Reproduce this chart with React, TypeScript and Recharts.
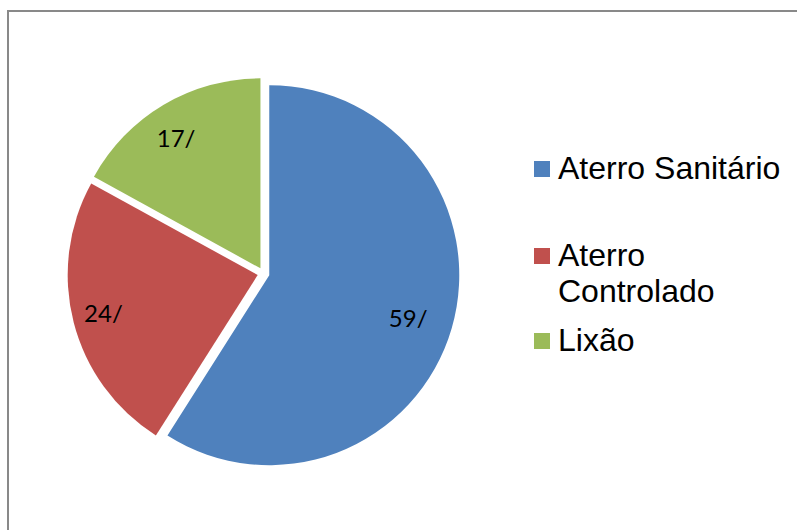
import { Cell, Legend, Pie, PieChart } from "recharts";

const categories = ["Aterro Sanitário", "Aterro Controlado", "Lixão"];
const values = [59, 24, 17];
const colors = ["#4F81BD", "#C0504D", "#9BBB59"];

const data = categories.map((name, i) => ({ name, value: values[i] }));

const CX = 263.5;
const CY = 273.5;
const R = 190;
const EXPLODE = 6;
const RAD = Math.PI / 180;
const total = values.reduce((a, b) => a + b, 0);

// mid angle of a slice in recharts degrees (clockwise from 12 o'clock)
function sliceMid(i: number): number {
  const before = values.slice(0, i).reduce((a, b) => a + b, 0);
  return 90 - ((before + values[i] / 2) / total) * 360;
}

const renderLabel = (target: number) => (props: any) => {
  if (props.index !== target) return null;
  const { cx, cy, midAngle, outerRadius, value } = props;
  const r = outerRadius * 0.8;
  const x = cx + r * Math.cos(-midAngle * RAD);
  const y = cy + r * Math.sin(-midAngle * RAD);
  return (
    <text
      x={x}
      y={y}
      dx={-7}
      fill="#000"
      textAnchor="middle"
      dominantBaseline="central"
      fontFamily="Lato, sans-serif"
      fontSize={24}
    >
      {value}/
    </text>
  );
};

const itemTops = [0, 51, 13];

function renderLegend() {
  return (
    <div style={{ fontFamily: "'Liberation Sans', Arial, sans-serif", fontSize: 32, lineHeight: "36px", color: "#000" }}>
      {categories.map((name, i) => (
        <div key={name} style={{ display: "flex", alignItems: "flex-start", marginTop: itemTops[i] }}>
          <span
            style={{
              width: 16,
              height: 16,
              marginTop: 11,
              marginRight: 8,
              background: colors[i],
              flex: "none",
            }}
          />
          <span style={{ width: 232 }}>{name}</span>
        </div>
      ))}
    </div>
  );
}

export default function App() {
  return (
    <div style={{ position: "absolute", left: 0, top: 0, width: 797, height: 530, background: "#fff", overflow: "hidden" }}>
      <div
        style={{
          position: "absolute",
          left: 7,
          top: 10,
          width: 820,
          height: 560,
          borderLeft: "2px solid #898989",
          borderTop: "2px solid #898989",
        }}
      />
      <div style={{ position: "absolute", left: 0, top: 0 }}>
        <PieChart width={797} height={530} margin={{ top: 0, right: 0, bottom: 0, left: 0 }}>
          {categories.map((_, target) => {
            const mid = sliceMid(target);
            const dx = EXPLODE * Math.cos(mid * RAD);
            const dy = -EXPLODE * Math.sin(mid * RAD);
            return (
              <Pie
                key={target}
                data={data}
                dataKey="value"
                nameKey="name"
                cx={CX + dx}
                cy={CY + dy}
                outerRadius={R}
                startAngle={90}
                endAngle={-270}
                stroke="none"
                labelLine={false}
                label={renderLabel(target)}
                isAnimationActive={false}
              >
                {data.map((d, i) => (
                  <Cell key={d.name} fill={i === target ? colors[i] : "transparent"} />
                ))}
              </Pie>
            );
          })}
          <Legend
            layout="vertical"
            verticalAlign="top"
            align="right"
            content={renderLegend}
            wrapperStyle={{ left: 534, top: 150, width: 262 }}
          />
        </PieChart>
      </div>
    </div>
  );
}
